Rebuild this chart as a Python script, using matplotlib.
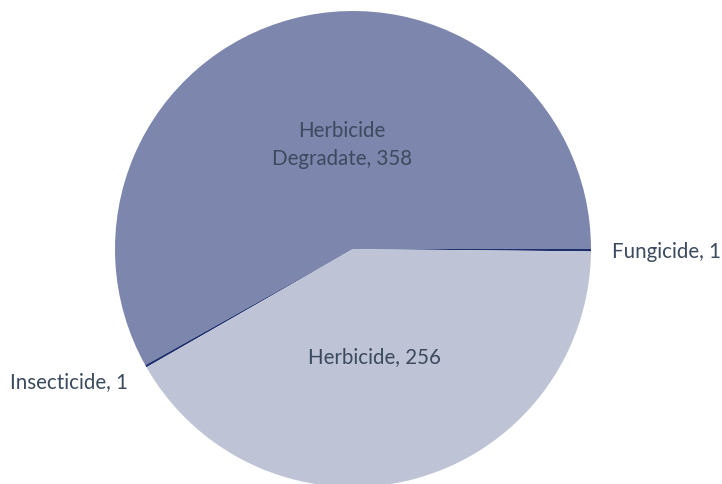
import matplotlib.pyplot as plt

labels = ['Fungicide', 'Herbicide\nDegradate', 'Insecticide', 'Herbicide']
values = [1, 358, 1, 256]
colors = ['#1f2f6e', '#7d86ad', '#1f2f6e', '#bec3d6']

plt.rcParams['font.family'] = ['Lato', 'DejaVu Sans']

fig = plt.figure(figsize=(7.22, 4.85), dpi=100)
cx, cy, r = 353, 250, 238
W, H = 722, 485
ax = fig.add_axes([(cx - r) / W, (H - cy - r) / H, 2 * r / W, 2 * r / H])

total = sum(values)
start = -values[0] / total * 360
ax.pie(values, colors=colors, startangle=start, counterclock=True,
       wedgeprops=dict(linewidth=0), radius=1)
ax.set_xlim(-1, 1)
ax.set_ylim(-1, 1)
ax.set_aspect('equal')
ax.axis('off')

txt = '#3b4a5e'
fs = 14.8
# label positions (data coords)
ax.text(-0.046, 0.441, f'{labels[1]}, {values[1]}', ha='center', va='center',
        color=txt, fontsize=fs, linespacing=1.55)
ax.text(0.092, -0.45, f'{labels[3]}, {values[3]}', ha='center', va='center',
        color=txt, fontsize=fs)
ax.text(1.088, -0.008, f'{labels[0]}, {values[0]}', ha='left', va='center',
        color=txt, fontsize=fs, clip_on=False)
ax.text(-0.945, -0.555, f'{labels[2]}, {values[2]}', ha='right', va='center',
        color=txt, fontsize=fs, clip_on=False)

fig.savefig('out.png', dpi=100)
